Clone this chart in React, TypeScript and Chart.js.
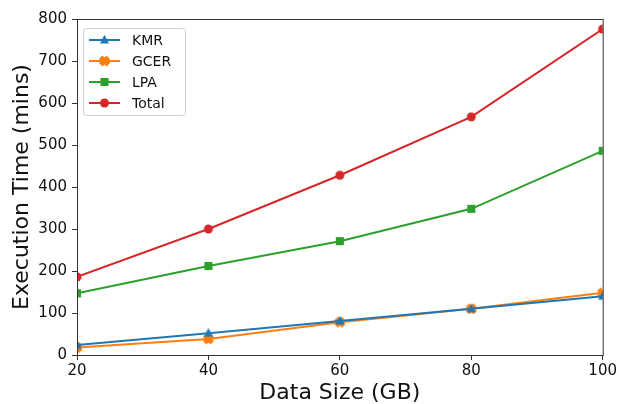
import React, { useEffect, useRef } from "react";
import { Chart, registerables } from "chart.js";

Chart.register(...registerables);

const dataSizes = [20, 40, 60, 80, 100];
const kmr = [24, 52, 81, 110, 140];
const gcer = [18, 38, 78, 110, 148];
const lpa = [147, 212, 271, 348, 486];
const total = [186, 300, 428, 567, 776];
const seriesNames = ["KMR", "GCER", "LPA", "Total"];
const colors = ["#1f77b4", "#ff7f0e", "#2ca02c", "#d62728"];
const xTicks = [20, 40, 60, 80, 100];
const yMax = 800;

const FONT = "'DejaVu Sans', sans-serif";

function drawMarker(ctx: CanvasRenderingContext2D, kind: string, x: number, y: number, r: number, color: string) {
  ctx.save();
  ctx.fillStyle = color;
  ctx.strokeStyle = color;
  ctx.beginPath();
  if (kind === "triangle") {
    ctx.moveTo(x, y - r * 1.15);
    ctx.lineTo(x + r, y + r * 0.75);
    ctx.lineTo(x - r, y + r * 0.75);
    ctx.closePath();
    ctx.fill();
  } else if (kind === "x") {
    ctx.translate(x, y);
    ctx.rotate(Math.PI / 4);
    const w = r * 0.55;
    const l = r * 1.2;
    ctx.rect(-l, -w, 2 * l, 2 * w);
    ctx.rect(-w, -l, 2 * w, 2 * l);
    ctx.fill();
  } else if (kind === "square") {
    ctx.rect(x - r * 0.9, y - r * 0.9, r * 1.8, r * 1.8);
    ctx.fill();
  } else {
    ctx.arc(x, y, r, 0, Math.PI * 2);
    ctx.fill();
  }
  ctx.restore();
}

function markerImage(kind: string, color: string, r: number) {
  const size = Math.ceil(r * 3);
  const c = document.createElement("canvas");
  c.width = size;
  c.height = size;
  const ctx = c.getContext("2d")!;
  drawMarker(ctx, kind, size / 2, size / 2, r, color);
  return c;
}

const kinds = ["triangle", "x", "square", "circle"];

export default function App() {
  const ref = useRef<HTMLCanvasElement>(null);
  useEffect(() => {
    document.body.style.margin = "0";
    const frame = {
      id: "frame",
      afterDatasetsDraw(chart: any) {
        const { ctx, chartArea } = chart;
        ctx.save();
        ctx.strokeStyle = "#333";
        ctx.lineWidth = 1;
        ctx.strokeRect(chartArea.left + 0.5, chartArea.top + 0.5, chartArea.right - chartArea.left, chartArea.bottom - chartArea.top);
        // legend
        const bx = chartArea.left + 6;
        const by = chartArea.top + 9;
        const bw = 102;
        const bh = 87;
        ctx.fillStyle = "rgba(255,255,255,0.85)";
        ctx.strokeStyle = "#d0d0d0";
        ctx.beginPath();
        (ctx as any).roundRect(bx + 0.5, by + 0.5, bw, bh, 3);
        ctx.fill();
        ctx.stroke();
        ctx.font = `14px ${FONT}`;
        ctx.textBaseline = "middle";
        ctx.textAlign = "left";
        for (let i = 0; i < 4; i++) {
          const y = by + 12 + i * 21;
          ctx.strokeStyle = colors[i];
          ctx.lineWidth = 2;
          ctx.beginPath();
          ctx.moveTo(bx + 6, y);
          ctx.lineTo(bx + 37, y);
          ctx.stroke();
          drawMarker(ctx, kinds[i], bx + 21.5, y, 4.5, colors[i]);
          ctx.fillStyle = "#111";
          ctx.fillText(seriesNames[i], bx + 49, y + 1);
        }
        ctx.restore();
      },
    };
    const allData = [kmr, gcer, lpa, total];
    const chart = new Chart(ref.current!, {
      type: "line",
      data: {
        datasets: allData.map((vals, i) => ({
          label: seriesNames[i],
          data: vals.map((v, j) => ({ x: dataSizes[j], y: v })),
          borderColor: colors[i],
          backgroundColor: colors[i],
          borderWidth: 2,
          pointStyle: markerImage(kinds[i], colors[i], 4.5) as any,
          pointRadius: 5,
          tension: 0,
        })),
      },
      options: {
        animation: false,
        responsive: false,
        maintainAspectRatio: false,
        layout: { padding: { left: 0, right: 15, top: 19, bottom: 0 } },
        plugins: { legend: { display: false }, tooltip: { enabled: false } },
        scales: {
          x: {
            type: "linear",
            min: 20,
            max: 100,
            afterBuildTicks: (s: any) => {
              s.ticks = xTicks.map((v) => ({ value: v }));
            },
            afterFit: (s: any) => {
              s.height = 49;
            },
            ticks: { color: "#111", font: { family: FONT, size: 15 }, padding: 2, maxRotation: 0 },
            grid: { drawOnChartArea: false, drawTicks: true, tickLength: 5, color: "#333" },
            border: { color: "#333" },
            title: { display: true, text: "Data Size (GB)", color: "#111", font: { family: FONT, size: 22, lineHeight: 1 }, padding: { top: 0, bottom: 0 } },
          },
          y: {
            min: 0,
            max: yMax,
            ticks: { stepSize: 100, color: "#111", font: { family: FONT, size: 15 }, padding: 5 },
            afterFit: (s: any) => {
              s.width = 77;
            },
            grid: { drawOnChartArea: false, drawTicks: true, tickLength: 5, color: "#333" },
            border: { color: "#333" },
            title: { display: true, text: "Execution Time (mins)", color: "#111", font: { family: FONT, size: 22, lineHeight: 1 }, padding: { top: 11, bottom: 0 } },
          },
        },
      },
      plugins: [frame],
    } as any);
    return () => chart.destroy();
  }, []);
  return (
    <div style={{ width: 619, height: 404, background: "#fff" }}>
      <canvas ref={ref} width={619} height={404} />
    </div>
  );
}
